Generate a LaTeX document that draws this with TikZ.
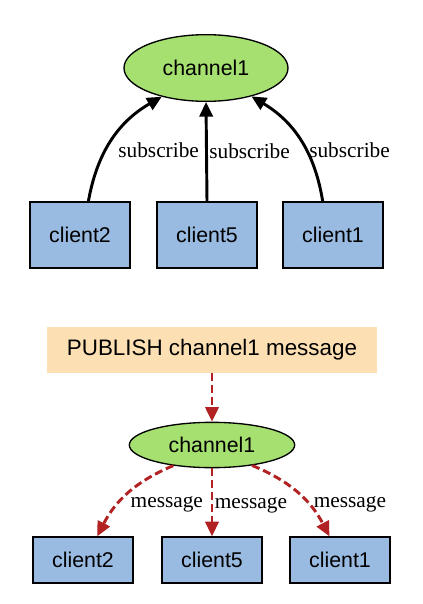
\documentclass[tikz,border=0pt]{standalone}
\usepackage{fontspec}
\setmainfont{Liberation Serif}
\setsansfont{Liberation Sans}
\usetikzlibrary{shapes.geometric,arrows.meta}
\definecolor{chgreen}{RGB}{166,224,112}
\definecolor{clblue}{RGB}{153,187,226}
\definecolor{pubpeach}{RGB}{252,224,180}
\definecolor{msgred}{RGB}{178,34,34}
\tikzset{
  chan/.style={ellipse, draw, fill=chgreen, line width=1pt, font=\sffamily\fontsize{16}{19}\selectfont},
  client/.style={rectangle, draw, fill=clblue, line width=1pt, minimum width=75pt, font=\sffamily\fontsize{16}{19}\selectfont},
  sub/.style={-{Triangle[length=11pt,width=10pt]}, line width=2.2pt},
  msg/.style={-{Triangle[length=11pt,width=10pt]}, msgred, line width=2.2pt, dash pattern=on 6pt off 3pt},
  lbl/.style={font=\fontsize{16}{19}\selectfont, inner sep=1pt, text=black}
}
\begin{document}
\begin{tikzpicture}[x=0.75pt, y=-0.75pt]
    \useasboundingbox (0,0) rectangle (423,604);
    \node[chan, minimum width=123pt, minimum height=50pt] (ch) at (206,68) {channel1};
    \node[client, minimum height=49.5pt] (c2) at (80,235) {client2};
    \node[client, minimum height=49.5pt] (c5) at (207,235) {client5};
    \node[client, minimum height=49.5pt] (c1) at (333,235) {client1};
    \draw[sub, bend left=25] (c2.76) to node[lbl, right=7.5pt, pos=0.4] {subscribe} (ch.213);
    \draw[sub] (c5.north) to node[lbl, right=0pt] {subscribe} (ch.south);
    \draw[sub, bend right=25] (c1.107) to node[lbl, right=0pt, pos=0.4] {subscribe} (ch.328);

    \node[rectangle, fill=pubpeach, minimum width=248pt, minimum height=34.5pt,
          font=\sffamily\fontsize{16.8}{20}\selectfont] (pub) at (212,350) {PUBLISH channel1 message};
    \node[chan, minimum width=124pt, minimum height=34pt] (bch) at (212,445) {channel1};
    \node[client, minimum height=34.5pt] (bc2) at (83,560) {client2};
    \node[client, minimum height=34.5pt] (bc5) at (212,560) {client5};
    \node[client, minimum height=34.5pt] (bc1) at (340,560) {client1};
    \draw[msg] (pub.south) to (bch.north);
    \draw[msg, bend right=20] (bch.208) to node[lbl, right=7.5pt, pos=0.65] {message} (bc2.59);
    \draw[msg] (bch.south) to node[lbl, right=0pt, pos=0.55] {message} (bc5.north);
    \draw[msg, bend left=20] (bch.333) to node[lbl, right=2pt, pos=0.65] {message} (bc1.114);
\end{tikzpicture}
\end{document}
